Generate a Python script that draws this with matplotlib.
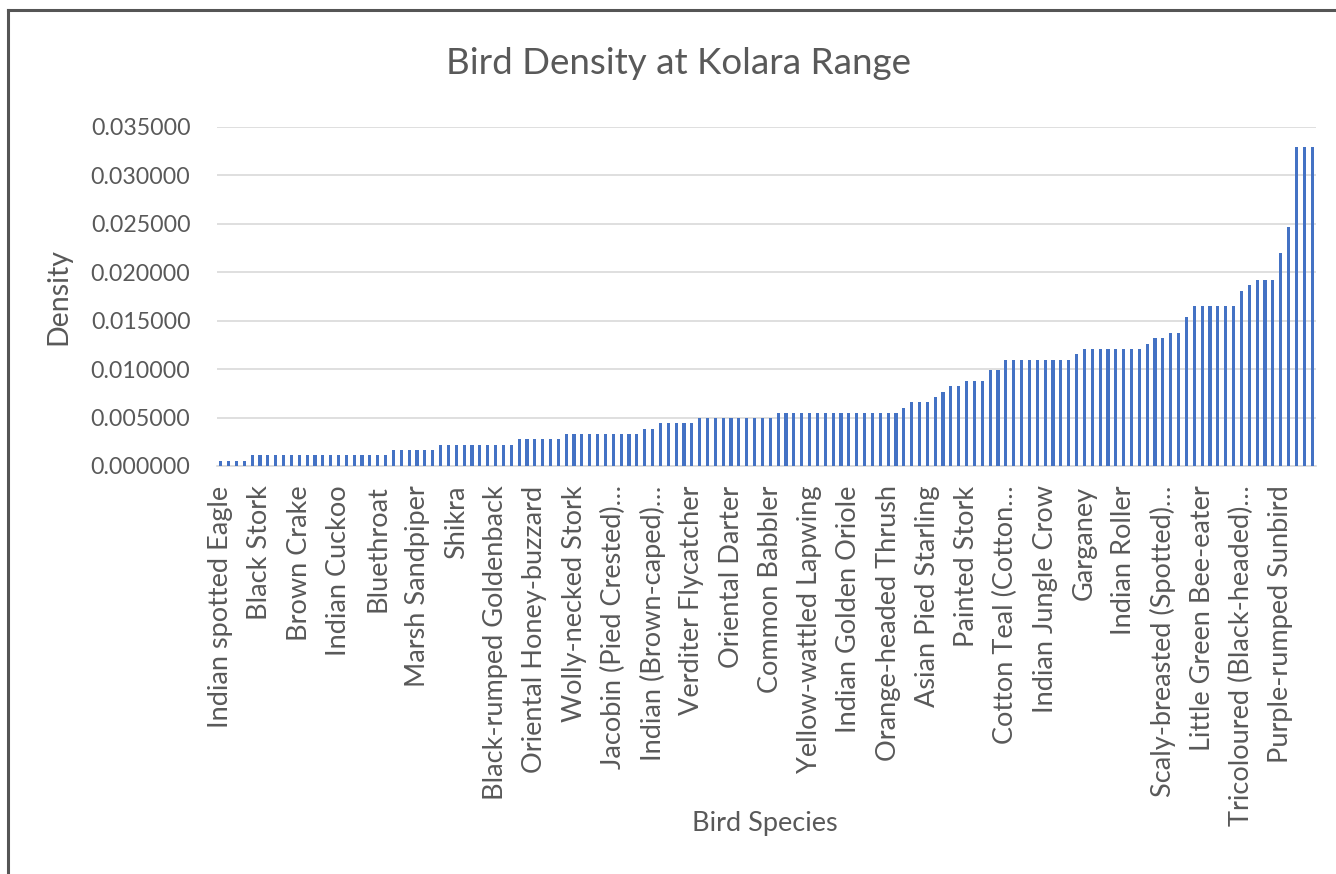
import numpy as np
import matplotlib.pyplot as plt
from matplotlib.lines import Line2D

# density per species, sorted ascending (140 species)
density = (
    [0.000549] * 4 + [0.001098] * 18 + [0.001647] * 6 + [0.002196] * 10
    + [0.002745] * 6 + [0.003294] * 10 + [0.003843] * 2 + [0.004392] * 5
    + [0.004941] * 10 + [0.005490] * 16 + [0.006039] + [0.006588] * 3
    + [0.007137] + [0.007686] + [0.008235] * 2 + [0.008784] * 3
    + [0.009882] * 2 + [0.010980] * 9 + [0.011529] + [0.012078] * 8
    + [0.012627] + [0.013176] * 2 + [0.013725] * 2 + [0.015372]
    + [0.016470] * 6 + [0.018117] + [0.018666] + [0.019215] * 3
    + [0.021960] + [0.024705] + [0.032940] * 3
)

# only every 5th species name is shown on the axis
tick_labels = [
    "Indian spotted Eagle", "Black Stork", "Brown Crake", "Indian Cuckoo",
    "Bluethroat", "Marsh Sandpiper", "Shikra", "Black-rumped Goldenback",
    "Oriental Honey-buzzard", "Wolly-necked Stork", "Jacobin (Pied Crested)…",
    "Indian (Brown-caped)…", "Verditer Flycatcher", "Oriental Darter",
    "Common Babbler", "Yellow-wattled Lapwing", "Indian Golden Oriole",
    "Orange-headed Thrush", "Asian Pied Starling", "Painted Stork",
    "Cotton Teal (Cotton…", "Indian Jungle Crow", "Garganey", "Indian Roller",
    "Scaly-breasted (Spotted)…", "Little Green Bee-eater",
    "Tricoloured (Black-headed)…", "Purple-rumped Sunbird",
]
yticks = [0.0, 0.005, 0.010, 0.015, 0.020, 0.025, 0.030, 0.035]

plt.rcParams['font.family'] = ['Lato', 'DejaVu Sans']
grey = '#595959'

fig = plt.figure(figsize=(13.36, 8.74), dpi=100)
ax = fig.add_axes([216.8 / 1336, 1 - 466 / 874, (1316 - 216.8) / 1336, (466 - 127) / 874])

x = np.arange(len(density))
ax.bar(x, density, width=0.4, color='#4472C4', zorder=3)

ax.set_xlim(-0.5, len(density) - 0.5)
ax.set_ylim(0, 0.035)
ax.set_yticks(yticks)
ax.set_yticklabels(['%.6f' % v for v in yticks])
ax.yaxis.grid(True, color='#D9D9D9', linewidth=1.2, zorder=0)
ax.set_xticks(x[::5])
ax.set_xticklabels(tick_labels, rotation=90)

for s in ['top', 'right', 'left']:
    ax.spines[s].set_visible(False)
ax.spines['bottom'].set_color('#D9D9D9')
ax.spines['bottom'].set_linewidth(1.2)
ax.tick_params(axis='both', length=0, colors=grey)
ax.tick_params(axis='x', pad=14, labelsize=19.5)
ax.tick_params(axis='y', pad=19, labelsize=16.7)

ax.set_ylabel('Density', fontsize=20.5, color=grey, labelpad=14)
fig.text(765 / 1336, 1 - 823 / 874, 'Bird Species', fontsize=19.5, color=grey,
         ha='center', va='center')
fig.text(678 / 1336, 1 - 63 / 874, 'Bird Density at Kolara Range', fontsize=26.5,
         color=grey, ha='center', va='center')

# chart border (left and top only visible)
fig.add_artist(Line2D([8 / 1336, 8 / 1336], [0, 1 - 10 / 874], color='#555555', lw=2.2,
                      transform=fig.transFigure))
fig.add_artist(Line2D([8 / 1336, 1], [1 - 10 / 874, 1 - 10 / 874], color='#555555', lw=2.2,
                      transform=fig.transFigure))

fig.savefig('out.png', dpi=100)
